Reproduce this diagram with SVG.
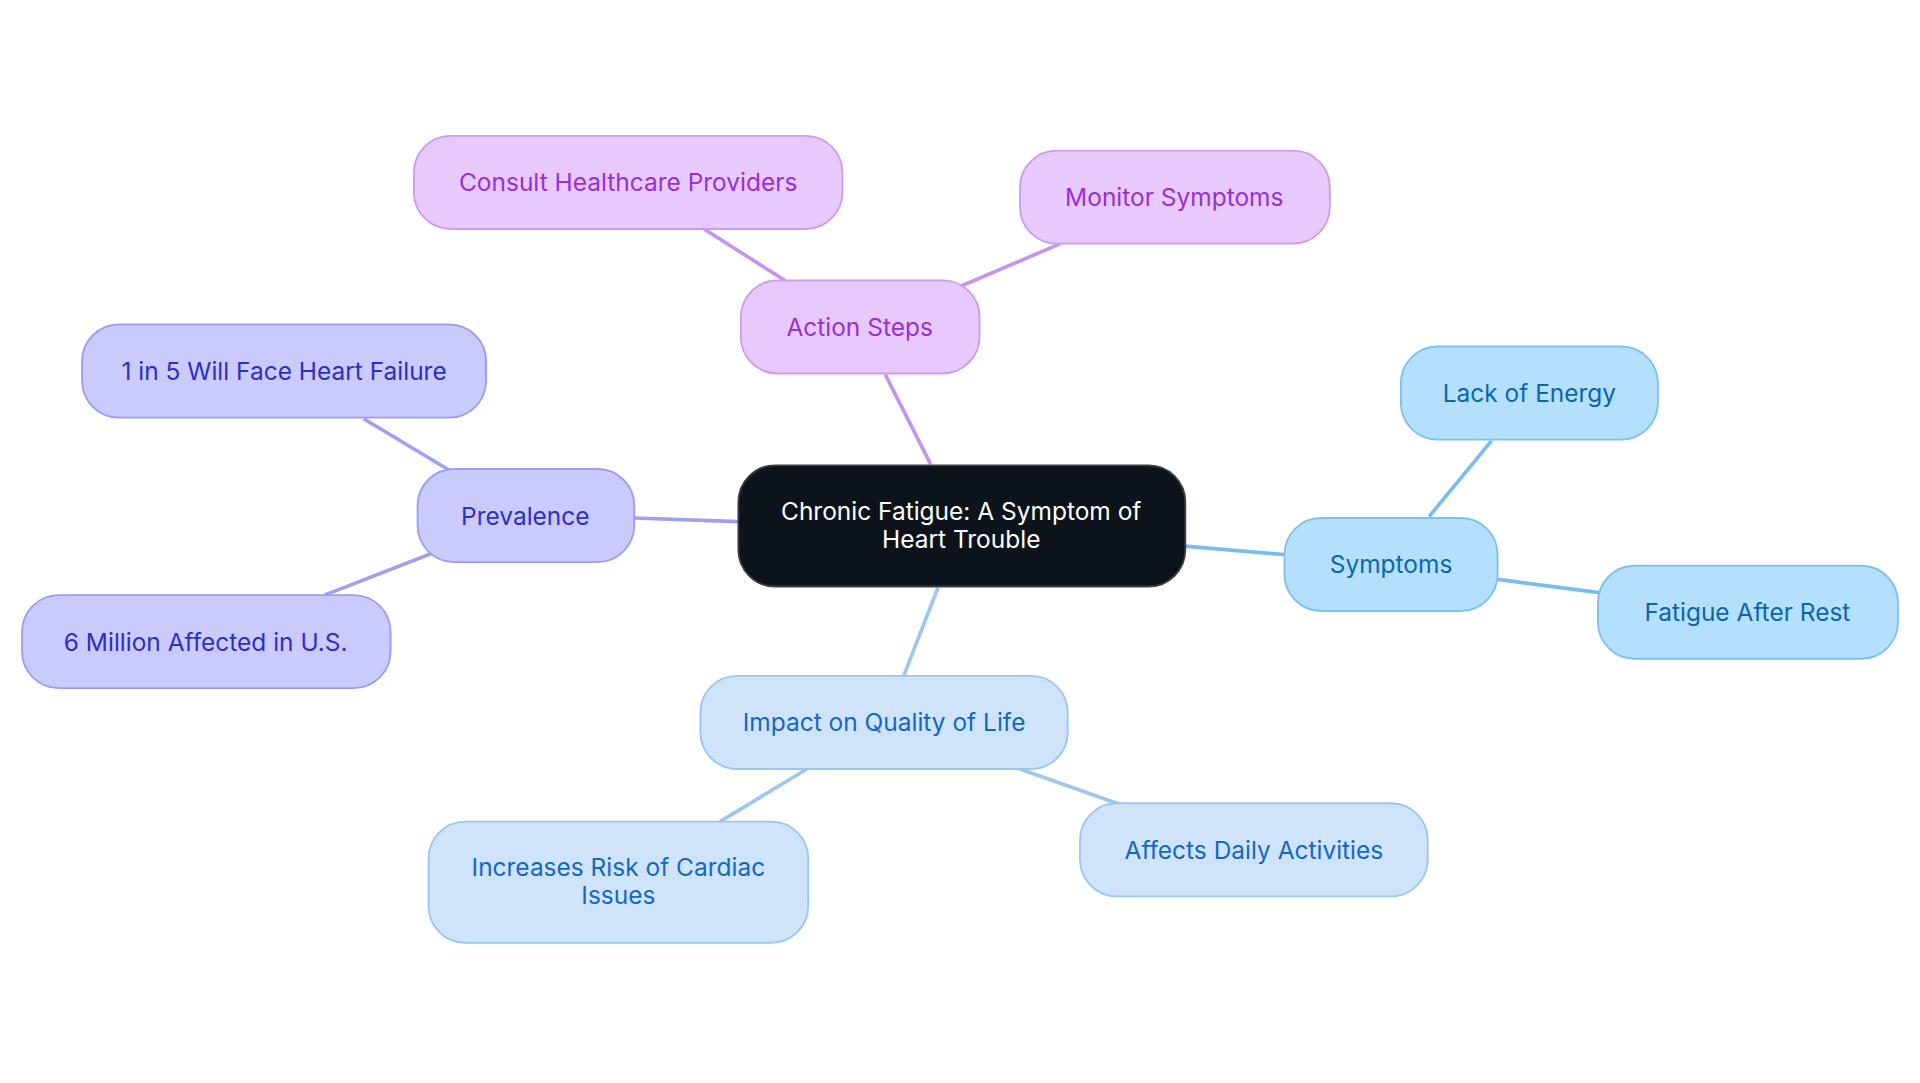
<svg xmlns="http://www.w3.org/2000/svg" width="1920" height="1083" viewBox="0 0 1920 1083">
<style>
text{font-family:Inter,"Noto Sans",sans-serif;font-size:20px;text-anchor:middle;dominant-baseline:central}
.c line{stroke-width:3;fill:none}
.p rect{fill:#e7c9fd;stroke:#cb9cf0;stroke-width:1.5}.p text{fill:#9a2fd6}
.v rect{fill:#cacafd;stroke:#9d9df0;stroke-width:1.5}.v text{fill:#2f2fc0}
.s rect{fill:#b4e0fd;stroke:#7ec0ef;stroke-width:1.5}.s text{fill:#0b66ad}
.i rect{fill:#cfe3fb;stroke:#9bc6f1;stroke-width:1.5}.i text{fill:#1468c4}
</style>
<rect width="1920" height="1083" fill="#fff"/>
<g transform="scale(1.2245)">
<g id="connectors" class="c">
<g stroke="#c594ee"><line x1="760" y1="379" x2="723" y2="306"/><line x1="641" y1="229" x2="575" y2="187"/><line x1="784" y1="234" x2="866" y2="199"/></g>
<g stroke="#a0a0f0"><line x1="603" y1="426" x2="518" y2="423"/><line x1="367" y1="384" x2="297" y2="342"/><line x1="355" y1="451" x2="265" y2="486"/></g>
<g stroke="#7bbcee"><line x1="968" y1="446" x2="1049" y2="453"/><line x1="1167" y1="422" x2="1218" y2="360"/><line x1="1222" y1="473" x2="1306" y2="484"/></g>
<g stroke="#9fc6ee"><line x1="766" y1="480" x2="738" y2="552"/><line x1="659" y1="628" x2="588" y2="671"/><line x1="833" y1="628" x2="915" y2="657"/></g>
</g>
<g id="center"><rect x="603" y="380" width="365" height="99" rx="30" fill="#0d131b" stroke="#3a3f46" stroke-width="1.5"/><text x="785" y="417" fill="#fff">Chronic Fatigue: A Symptom of</text><text x="785" y="440" fill="#fff">Heart Trouble</text></g>
<g id="action" class="p"><rect x="605" y="229" width="195" height="76" rx="30"/><text x="702" y="267">Action Steps</text></g>
<g id="consult" class="p"><rect x="338" y="111" width="350" height="76" rx="30"/><text x="513" y="149">Consult Healthcare Providers</text></g>
<g id="monitor" class="p"><rect x="833" y="123" width="253" height="76" rx="30"/><text x="959" y="161">Monitor Symptoms</text></g>
<g id="prevalence" class="v"><rect x="341" y="383" width="177" height="76" rx="30"/><text x="429" y="421">Prevalence</text></g>
<g id="oneinfive" class="v"><rect x="67" y="265" width="330" height="76" rx="30"/><text x="232" y="303">1 in 5 Will Face Heart Failure</text></g>
<g id="sixmillion" class="v"><rect x="18" y="486" width="301" height="76" rx="30"/><text x="168" y="524">6 Million Affected in U.S.</text></g>
<g id="symptoms" class="s"><rect x="1049" y="423" width="174" height="76" rx="30"/><text x="1136" y="461">Symptoms</text></g>
<g id="lack" class="s"><rect x="1144" y="283" width="210" height="76" rx="30"/><text x="1249" y="321">Lack of Energy</text></g>
<g id="fatigue" class="s"><rect x="1305" y="462" width="245" height="76" rx="30"/><text x="1427" y="500">Fatigue After Rest</text></g>
<g id="impact" class="i"><rect x="572" y="552" width="300" height="76" rx="30"/><text x="722" y="590">Impact on Quality of Life</text></g>
<g id="increases" class="i"><rect x="350" y="671" width="310" height="99" rx="30"/><text x="505" y="708">Increases Risk of Cardiac</text><text x="505" y="731">Issues</text></g>
<g id="affects" class="i"><rect x="882" y="656" width="284" height="76" rx="30"/><text x="1024" y="694">Affects Daily Activities</text></g>
</g>
</svg>
